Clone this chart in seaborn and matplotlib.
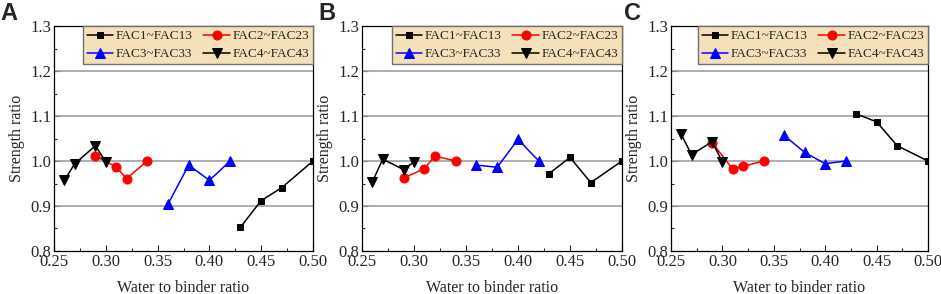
import seaborn as sns
import matplotlib.pyplot as plt
import pandas as pd
from matplotlib.ticker import MultipleLocator, AutoMinorLocator

# 1. DATA
wb_fac1 = [0.43, 0.45, 0.47, 0.50]
wb_fac2 = [0.29, 0.31, 0.32, 0.34]
wb_fac3 = [0.36, 0.38, 0.40, 0.42]
wb_fac4 = [0.26, 0.27, 0.29, 0.30]

panel_labels = ["A", "B", "C"]
series_names = ["FAC1~FAC13", "FAC2~FAC23", "FAC3~FAC33", "FAC4~FAC43"]

ratio_a = [
    [0.853, 0.912, 0.941, 1.000],
    [1.011, 0.987, 0.961, 1.000],
    [0.904, 0.991, 0.957, 1.000],
    [0.957, 0.994, 1.034, 0.998],
]
ratio_b = [
    [0.972, 1.008, 0.952, 1.000],
    [0.962, 0.983, 1.011, 1.000],
    [0.991, 0.986, 1.048, 1.000],
    [0.954, 1.004, 0.981, 0.998],
]
ratio_c = [
    [1.105, 1.087, 1.034, 1.000],
    [1.041, 0.982, 0.988, 1.000],
    [1.057, 1.019, 0.994, 1.000],
    [1.059, 1.014, 1.043, 0.998],
]

x_values = [wb_fac1, wb_fac2, wb_fac3, wb_fac4]
panels = [ratio_a, ratio_b, ratio_c]

# 2. STYLE
colors = ["black", "#ff0000", "#0000ff", "black"]
markers = ["s", "o", "^", "v"]
msizes = [4.8, 6.5, 6.5, 7]

sns.set_theme(style="white")
plt.rcParams["font.family"] = ["Liberation Serif", "DejaVu Serif"]

fig = plt.figure(figsize=(9.41, 2.94), dpi=100)
W, H = 941, 294
lefts = [54, 362, 671]
rights = [313, 622, 928]
label_x = [0, 318, 624]
top, bottom = 26, 251

for i, (vals, lab) in enumerate(zip(panels, panel_labels)):
    ax = fig.add_axes([lefts[i] / W, 1 - bottom / H,
                       (rights[i] - lefts[i]) / W, (bottom - top) / H])
    for k in range(4):
        df = pd.DataFrame({"wb": x_values[k], "ratio": vals[k]})
        sns.lineplot(data=df, x="wb", y="ratio", ax=ax, color=colors[k],
                     marker=markers[k], markersize=msizes[k],
                     markeredgecolor=colors[k], linewidth=1.1,
                     label=series_names[k], zorder=3)

    ax.set_xlim(0.25, 0.50)
    ax.set_ylim(0.8, 1.3)
    ax.xaxis.set_major_locator(MultipleLocator(0.05))
    ax.xaxis.set_minor_locator(AutoMinorLocator(2))
    ax.yaxis.set_major_locator(MultipleLocator(0.1))
    ax.yaxis.set_minor_locator(AutoMinorLocator(2))
    ax.xaxis.set_major_formatter(plt.FormatStrFormatter("%.2f"))
    ax.yaxis.set_major_formatter(plt.FormatStrFormatter("%.1f"))
    ax.tick_params(which="both", direction="in", top=False, right=False,
                   bottom=True, left=True, labelsize=12, pad=2)
    ax.tick_params(which="major", length=4, width=0.8)
    ax.tick_params(which="minor", length=2.5, width=0.8)

    for yv in [0.9, 1.0, 1.1, 1.2]:
        ax.axhline(yv, color="#a0a0a0", linewidth=1.2, zorder=1)

    for s in ax.spines.values():
        s.set_color("black")
        s.set_linewidth(0.9)

    ax.set_xlabel("Water to binder ratio", fontsize=11.5, labelpad=7)
    ax.set_ylabel("Strength ratio", fontsize=11.5, labelpad=4)

    h, l = ax.get_legend_handles_labels()
    order = [0, 2, 1, 3]
    ax.legend([h[j] for j in order], [l[j] for j in order], ncol=2,
              loc="upper right", bbox_to_anchor=(1.0, 1.0),
              frameon=True, fancybox=False, facecolor="#f5e1b9",
              edgecolor="#707070", framealpha=1, fontsize=9.5,
              handlelength=2.0, handletextpad=0.2, columnspacing=0.8,
              labelspacing=0.45, borderpad=0.3, borderaxespad=0.0)

    fig.text(label_x[i] / W, 1 - 13 / H, lab,
             fontsize=17, fontweight="bold", family="Liberation Sans",
             ha="left", va="center")

plt.savefig("out.png", dpi=100)
